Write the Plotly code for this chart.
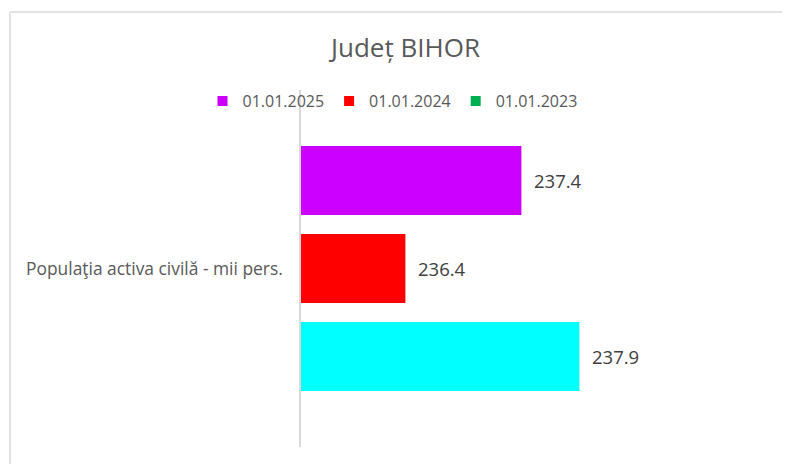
import plotly.graph_objects as go

title = "Județ BIHOR"
category = ["Populaţia activa civilă - mii pers."]
series_names = ["01.01.2025", "01.01.2024", "01.01.2023"]
values = [[237.4], [236.4], [237.9]]
bar_colors = ["#CC00FF", "#FF0000", "#00FFFF"]
legend_colors = ["#CC00FF", "#FF0000", "#00B050"]

FONT = "Open Sans"
W, H = 782, 456          # page has an 8px body margin
L, T = 293, 82           # plot-area left / top (figure px)
PW, PH = 464, 357        # plot-area size

fig = go.Figure()

# bars: plotly puts the first trace at the bottom, so add in reverse order
for name, vals, col in reversed(list(zip(series_names, values, bar_colors))):
    fig.add_trace(go.Bar(
        y=category, x=vals, orientation="h", name=name,
        marker=dict(color=col, line=dict(width=0)),
        texttemplate="\u00a0\u00a0%{x:.1f}", textposition="outside",
        textfont=dict(family=FONT, size=18.5, color="#404040"),
        cliponaxis=False, showlegend=False,
    ))

# legend entries
for i, (name, col) in enumerate(zip(series_names, legend_colors)):
    fig.add_trace(go.Scatter(
        x=[None], y=[None], mode="markers", name=name,
        marker=dict(symbol="square", size=10, color=col),
        legendrank=i + 1,
    ))

frame_x = (2 - L) / PW
frame_y = (T + PH - 4) / PH

fig.update_layout(
    width=W, height=H,
    paper_bgcolor="white", plot_bgcolor="white",
    margin=dict(l=L, r=W - L - PW, t=T, b=H - T - PH, autoexpand=False),
    barmode="group", bargap=0.26, bargroupgap=0.216,
    title=dict(text=title, x=397.5 / W, xref="container", y=1 - 40 / H,
               yref="container", yanchor="middle", xanchor="center",
               font=dict(family=FONT, size=26, color="#595959")),
    legend=dict(orientation="h", xref="container", yref="container",
                x=384.5 / W, xanchor="center", y=1 - 93 / H, yanchor="middle",
                font=dict(family=FONT, size=16, color="#595959"),
                bgcolor="rgba(0,0,0,0)", itemwidth=30, tracegroupgap=0),
    xaxis=dict(range=[235.5, 239.5], visible=False, fixedrange=True),
    yaxis=dict(showline=True, linecolor="#d9d9d9", linewidth=1.5,
               showgrid=False, zeroline=False, ticks="",
               ticklabelstandoff=13,
               tickfont=dict(family=FONT, size=17.4, color="#595959")),
    shapes=[
        dict(type="line", xref="paper", yref="paper",
             x0=frame_x, x1=frame_x, y0=-1, y1=frame_y,
             line=dict(color="#d9d9d9", width=1.5), layer="below"),
        dict(type="line", xref="paper", yref="paper",
             x0=frame_x, x1=3, y0=frame_y, y1=frame_y,
             line=dict(color="#d9d9d9", width=1.5), layer="below"),
    ],
)

fig.write_html("out.html")
